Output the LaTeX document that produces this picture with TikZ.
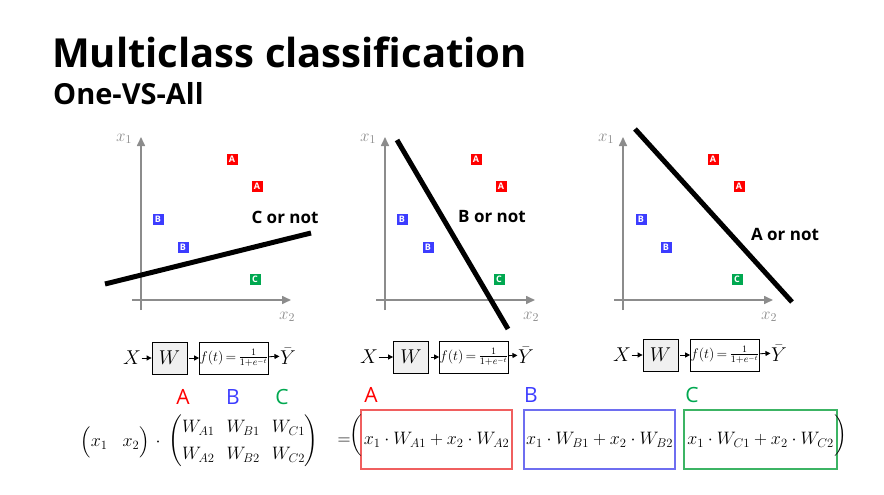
\documentclass[tikz,border=0pt]{standalone}
\usepackage{fix-cm}
\usepackage{amsmath}
\usepackage{fontspec}
\setmainfont{Open Sans}
\usetikzlibrary{arrows.meta}
\definecolor{cA}{RGB}{255,0,0}
\definecolor{cB}{RGB}{60,60,255}
\definecolor{cC}{RGB}{0,168,80}
\definecolor{axisgray}{RGB}{140,140,140}
\definecolor{boxA}{RGB}{240,95,95}
\definecolor{boxB}{RGB}{110,110,240}
\definecolor{boxC}{RGB}{60,180,100}
\definecolor{wfill}{RGB}{240,240,240}
\tikzset{
  classpt/.style={fill=#1, text=white, font=\bfseries\fontsize{9}{9}\selectfont, inner sep=0pt, minimum size=11pt},
  axisline/.style={draw=axisgray, line width=1.6pt, -{Triangle[length=9pt,width=8pt]}},
  axislbl/.style={text=axisgray, font=\fontsize{17}{17}\selectfont},
  sepline/.style={line width=5pt},
  ornot/.style={font=\bfseries\fontsize{17}{17}\selectfont},
  mth/.style={inner sep=0.5pt, font=\fontsize{20}{20}\selectfont},
  wbox/.style={draw, line width=0.8pt, fill=wfill, minimum width=35pt, minimum height=32pt, inner sep=0pt, font=\fontsize{20}{20}\selectfont},
  fbox/.style={draw, line width=0.8pt, minimum width=66pt, minimum height=32pt, inner sep=0pt, font=\fontsize{14}{14}\selectfont},
  sarrow/.style={line width=0.8pt, -{Triangle[length=5pt,width=5pt]}},
  hdr/.style={font=\fontsize{21}{21}\selectfont},
  mathbig/.style={inner sep=0pt, font=\fontsize{18}{27}\selectfont},
  resbox/.style={draw=#1, line width=1.2pt, minimum width=151pt, minimum height=59pt, inner sep=0pt, font=\fontsize{18}{18}\selectfont},
}
\begin{document}
\begin{tikzpicture}[x=1pt,y=-1pt]
\useasboundingbox (0,0) rectangle (884,495);
% titles
\node[anchor=base west, inner sep=0pt, font=\bfseries\fontsize{40}{40}\selectfont] (title) at (52,68) {Multiclass classification};
\node[anchor=base west, inner sep=0pt, font=\bfseries\fontsize{29}{29}\selectfont] (subtitle) at (53,104) {One-VS-All};

% ---------- plot 1 ----------
\begin{scope}[shift={(141,0)}]
\coordinate (ya1) at (0,310); \coordinate (yb1) at (0,137);
\coordinate (xa1) at (-9,300); \coordinate (xb1) at (150,300);
\draw[axisline] (ya1) -- (yb1);
\draw[axisline] (xa1) -- (xb1);
\node[axislbl] (xl1a) at (-17,139) {$x_1$};
\node[axislbl] (xl2a) at (146,317) {$x_2$};
\node[classpt=cA] (pa1) at (91,159) {A};
\node[classpt=cA] (pa2) at (116,186) {A};
\node[classpt=cB] (pb1) at (17,219) {B};
\node[classpt=cB] (pb2) at (42,247) {B};
\node[classpt=cC] (pc1) at (114,279) {C};
\end{scope}
\coordinate (s1a) at (105,284); \coordinate (s1b) at (311,233);
\draw[sepline] (s1a) -- (s1b);
\node[ornot] (on1) at (285,217) {C or not};

% ---------- plot 2 ----------
\begin{scope}[shift={(385,0)}]
\coordinate (ya2) at (0,310); \coordinate (yb2) at (0,137);
\coordinate (xa2) at (-9,300); \coordinate (xb2) at (150,300);
\draw[axisline] (ya2) -- (yb2);
\draw[axisline] (xa2) -- (xb2);
\node[axislbl] (xl1b) at (-17,139) {$x_1$};
\node[axislbl] (xl2b) at (146,317) {$x_2$};
\node[classpt=cA] (qa1) at (91,159) {A};
\node[classpt=cA] (qa2) at (116,186) {A};
\node[classpt=cB] (qb1) at (17,219) {B};
\node[classpt=cB] (qb2) at (43,247) {B};
\node[classpt=cC] (qc1) at (114,279) {C};
\end{scope}
\coordinate (s2a) at (397,140); \coordinate (s2b) at (508,329);
\draw[sepline] (s2a) -- (s2b);
\node[ornot] (on2) at (492,217) {B or not};

% ---------- plot 3 ----------
\begin{scope}[shift={(623,0)}]
\coordinate (ya3) at (0,310); \coordinate (yb3) at (0,137);
\coordinate (xa3) at (-9,300); \coordinate (xb3) at (150,300);
\draw[axisline] (ya3) -- (yb3);
\draw[axisline] (xa3) -- (xb3);
\node[axislbl] (xl1c) at (-17,139) {$x_1$};
\node[axislbl] (xl2c) at (146,317) {$x_2$};
\node[classpt=cA] (ra1) at (90,159) {A};
\node[classpt=cA] (ra2) at (116,186) {A};
\node[classpt=cB] (rb1) at (18,219) {B};
\node[classpt=cB] (rb2) at (43,247) {B};
\node[classpt=cC] (rc1) at (114,279) {C};
\end{scope}
\coordinate (s3a) at (635,129); \coordinate (s3b) at (792,302);
\draw[sepline] (s3a) -- (s3b);
\node[ornot] (on3) at (785,234) {A or not};

% ---------- block diagrams ----------
\node[mth] (X1) at (132,358) {$X$};
\node[wbox] (W1) at (169.5,358) {$W$};
\node[fbox] (F1) at (234,358) {$f(t)\,{=}\,\frac{1}{1+e^{-t}}$};
\node[mth] (Y1) at (288,356) {$\bar{Y}$};
\draw[sarrow] (X1) -- (W1);
\draw[sarrow] ([xshift=2pt]W1.east) -- (F1);
\draw[sarrow] (F1) -- (Y1);

\node[mth] (X2) at (369,357) {$X$};
\node[wbox] (W2) at (411,357) {$W$};
\node[fbox] (F2) at (474,357) {$f(t)\,{=}\,\frac{1}{1+e^{-t}}$};
\node[mth] (Y2) at (526,355) {$\bar{Y}$};
\draw[sarrow] (X2) -- (W2);
\draw[sarrow] ([xshift=2pt]W2.east) -- (F2);
\draw[sarrow] (F2) -- (Y2);

\node[mth] (X3) at (622,355) {$X$};
\node[wbox] (W3) at (660.5,355) {$W$};
\node[fbox] (F3) at (725,355) {$f(t)\,{=}\,\frac{1}{1+e^{-t}}$};
\node[mth] (Y3) at (779,353) {$\bar{Y}$};
\draw[sarrow] (X3) -- (W3);
\draw[sarrow] ([xshift=2pt]W3.east) -- (F3);
\draw[sarrow] (F3) -- (Y3);

% ---------- matrix equation ----------
\node[hdr, text=cA] (hA) at (183,397) {A};
\node[hdr, text=cB] (hB) at (233,397) {B};
\node[hdr, text=cC] (hC) at (282,397) {C};
\node[mathbig] (rowv) at (115,442) {$\Big(x_1\;\;\; x_2\Big)$};
\node[mathbig] (cdt) at (158,442) {$\vphantom{(}\cdot$};
\node[mathbig] (mat) at (243.5,441) {$\setlength{\arraycolsep}{6pt}\begin{pmatrix}W_{A1} & W_{B1} & W_{C1}\\ W_{A2} & W_{B2} & W_{C2}\end{pmatrix}$};
\node[mathbig] (eqs) at (344,441) {$=$};

\node[hdr, text=cA] (lA) at (371,395) {A};
\node[hdr, text=cB] (lB) at (531,395) {B};
\node[hdr, text=cC] (lC) at (692,395) {C};
\node[resbox=boxA] (rA) at (436.5,439.5) {$x_1\cdot W_{A1}+x_2\cdot W_{A2}$};
\node[resbox=boxB] (rB) at (599.5,439.5) {$x_1\cdot W_{B1}+x_2\cdot W_{B2}$};
\node[resbox=boxC, minimum width=153pt] (rC) at (760.5,439.5) {$x_1\cdot W_{C1}+x_2\cdot W_{C2}$};
\node[inner sep=0pt, font=\fontsize{18}{20}\selectfont] (pl) at (356,436) {$\left(\vcenter{\hbox{\rule{0pt}{42pt}}}\right.$};
\node[inner sep=0pt, font=\fontsize{18}{20}\selectfont] (pr) at (840,436) {$\left.\vcenter{\hbox{\rule{0pt}{42pt}}}\right)$};
\end{tikzpicture}
\end{document}
